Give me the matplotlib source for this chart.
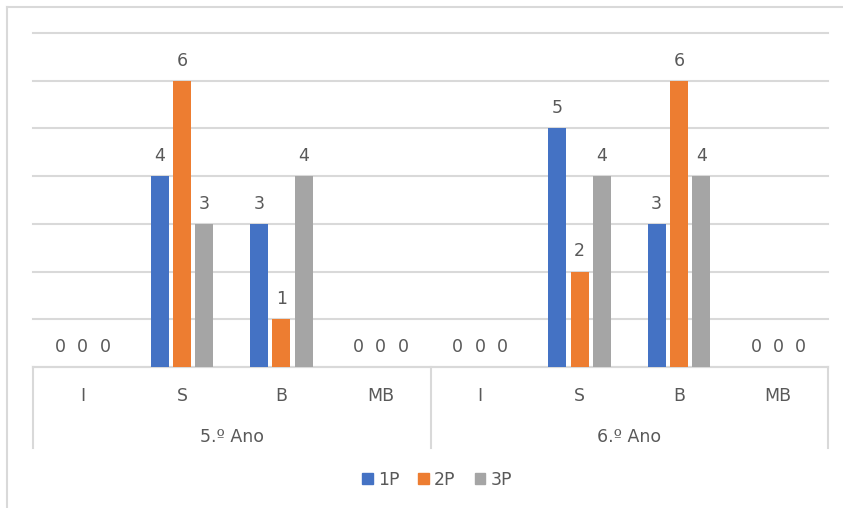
import matplotlib.pyplot as plt
from matplotlib.patches import Patch
from matplotlib.lines import Line2D
import numpy as np

# data
groups = ["5.º Ano", "6.º Ano"]
levels = ["I", "S", "B", "MB"]
series = ["1P", "2P", "3P"]
p1 = [0, 4, 3, 0, 0, 5, 3, 0]
p2 = [0, 6, 1, 0, 0, 2, 6, 0]
p3 = [0, 3, 4, 0, 0, 4, 4, 0]
colors = ["#4472C4", "#ED7D31", "#A5A5A5"]

W, H = 843, 508
fig = plt.figure(figsize=(W / 100, H / 100), dpi=100)
ax = fig.add_axes([33 / W, 1 - 367 / H, (828 - 33) / W, (367 - 33) / H])

txt = "#595959"
grid = "#D9D9D9"
fs = 12.5
x = np.arange(len(p1))
width = 0.18
step = 0.225
for i, (vals, c) in enumerate(zip([p1, p2, p3], colors)):
    xs = x + (i - 1) * step
    ax.bar(xs, vals, width=width, color=c, zorder=3)
    for xv, v in zip(xs, vals):
        ax.annotate(str(v), (xv, v), xytext=(0, 8), textcoords="offset points",
                    ha="center", va="bottom", fontsize=fs, color=txt)

ax.set_xlim(-0.5, 7.5)
ax.set_ylim(0, 7)
ax.set_yticks(range(0, 8))
ax.yaxis.grid(True, color=grid, lw=1.5, zorder=0)
for gl in ax.get_ygridlines():
    gl.set_clip_on(False)
ax.tick_params(left=False, bottom=False, labelleft=False, labelbottom=False)
for s in ["top", "right", "left"]:
    ax.spines[s].set_visible(False)
ax.spines["bottom"].set_color(grid)
ax.spines["bottom"].set_linewidth(1.5)

# two-level category axis
tr = ax.get_xaxis_transform()
labels = levels * len(groups)
for xv, lab in zip(x, labels):
    ax.text(xv, -0.087, lab, transform=tr, ha="center", va="center", fontsize=fs, color=txt)
for g, name in enumerate(groups):
    ax.text(g * 4 + 1.5, -0.21, name, transform=tr, ha="center", va="center", fontsize=fs, color=txt)
for xb in [-0.5, 3.5, 7.5]:
    ax.plot([xb, xb], [0, -0.2425], transform=tr, color=grid, lw=1.5, clip_on=False)

handles = [Patch(color=c) for c in colors]
fig.legend(handles, series, loc="center", bbox_to_anchor=(437 / W, 1 - 480 / H), ncol=3,
           frameon=False, fontsize=fs, handlelength=0.6, handleheight=0.6,
           handletextpad=0.3, columnspacing=1.1, labelcolor=txt)

# chart border (top and left visible)
fig.add_artist(Line2D([7 / W, 1], [1 - 7 / H, 1 - 7 / H], color=grid, lw=1.5))
fig.add_artist(Line2D([7 / W, 7 / W], [0, 1 - 7 / H], color=grid, lw=1.5))

fig.savefig("out.png", dpi=100)
